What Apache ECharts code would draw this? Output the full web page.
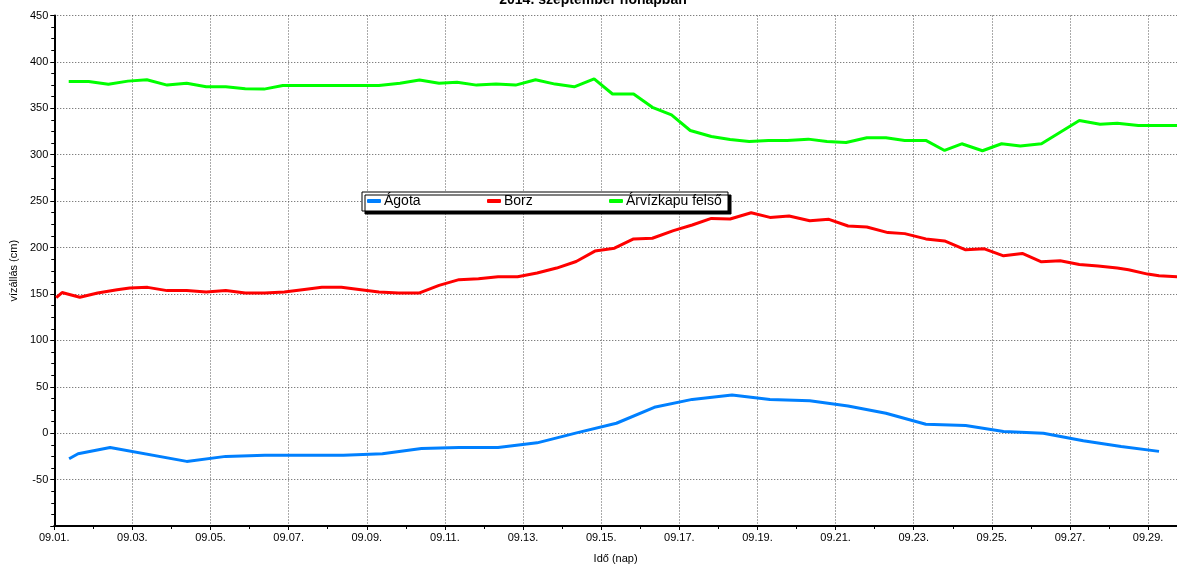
<!DOCTYPE html>
<html>
<head>
<meta charset="utf-8">
<script src="https://cdn.jsdelivr.net/npm/echarts@6/dist/echarts.min.js"></script>
<style>
html,body{margin:0;padding:0;background:#fff;}
#chart{width:1177px;height:569px;}
</style>
</head>
<body>
<div id="chart"></div>
<script>
// Time = days elapsed since 2014-09-01 00:00
const seriesNames = ['Ágota', 'Borz', 'Árvízkapu felső'];
const seriesColors = ['#0080ff', '#ff0000', '#00ff00'];

const agotaT = [0.38, 0.61, 1.43, 3.39, 4.39, 5.39, 6.39, 7.40, 8.40, 9.40, 10.36, 11.36, 12.36, 13.37, 14.39, 15.36, 16.33, 17.35, 18.32, 19.34, 20.32, 21.29, 22.31, 23.33, 24.30, 25.32, 26.34, 27.31, 28.28];
const agotaV = [-27.5, -22.1, -15.4, -30.4, -25, -23.9, -23.9, -23.9, -22.1, -16.4, -15.4, -15.4, -10.4, 0.3, 10.7, 27.9, 36.4, 41.1, 36.4, 35, 29.3, 21.4, 9.6, 8.2, 1.8, 0, -8.2, -14.3, -19.6];

const borzT = [0.05, 0.2, 0.34, 0.655, 1.11, 1.61, 1.93, 2.39, 2.89, 3.39, 3.89, 4.39, 4.89, 5.39, 5.89, 6.35, 6.85, 7.35, 7.85, 8.31, 8.81, 9.35, 9.85, 10.36, 10.86, 11.36, 11.86, 12.36, 12.86, 13.36, 13.84, 14.34, 14.83, 15.31, 15.85, 16.33, 16.82, 17.30, 17.84, 18.32, 18.81, 19.34, 19.83, 20.32, 20.80, 21.34, 21.77, 22.31, 22.79, 23.33, 23.81, 24.30, 24.78, 25.27, 25.75, 26.24, 26.72, 27.21, 27.50, 27.99, 28.28, 28.80];
const borzV = [146, 151.5, 150, 146.4, 151.1, 154.6, 156.4, 157.1, 153.6, 153.6, 152.1, 153.6, 151.1, 151.1, 152.1, 154.6, 157.1, 157.1, 154.6, 152.1, 151.1, 151.1, 159.3, 165.4, 166.4, 168.6, 168.6, 172.5, 177.9, 185, 196.2, 199.3, 209.3, 210, 218.2, 224.3, 231.4, 230.7, 237.5, 232.5, 233.9, 228.9, 230.4, 223.2, 222.1, 216.1, 215, 209.3, 207.1, 197.5, 198.6, 191.1, 193.6, 184.6, 185.7, 181.8, 180, 177.9, 176.1, 171.4, 169.6, 168.4];

const arvizT = [0.37, 0.88, 1.385, 1.885, 2.37, 2.89, 3.39, 3.89, 4.39, 4.89, 5.37, 5.85, 6.35, 6.85, 7.35, 7.85, 8.31, 8.85, 9.35, 9.85, 10.31, 10.81, 11.31, 11.81, 12.32, 12.82, 13.31, 13.82, 14.29, 14.83, 15.31, 15.80, 16.28, 16.82, 17.30, 17.79, 18.28, 18.76, 19.30, 19.78, 20.27, 20.80, 21.29, 21.77, 22.31, 22.79, 23.23, 23.76, 24.25, 24.73, 25.27, 25.75, 26.24, 26.77, 27.21, 27.75, 28.18, 28.80];
const arvizV = [379, 379, 376, 379.3, 380.7, 375, 377.1, 373.2, 373.2, 371.1, 370.7, 374.6, 374.6, 374.6, 374.6, 374.6, 374.6, 377.1, 380.4, 377.1, 378.2, 375, 376.1, 375, 380.7, 376.1, 373.2, 381.8, 365.4, 365.4, 351.1, 342.9, 326.1, 319.6, 316.4, 314.3, 315.4, 315.4, 316.8, 314.3, 313.2, 318.2, 318.2, 315.4, 315.4, 304.6, 311.8, 304.3, 311.8, 309.3, 311.8, 324.3, 336.8, 332.9, 333.9, 331.4, 331.4, 331.4];

const yTicks = [-50, 0, 50, 100, 150, 200, 250, 300, 350, 400, 450];
const titleText = '2014. szeptember hónapban';
const xName = 'Idő (nap)';
const yName = 'vízállás (cm)';

function pairs(t, v) { return t.map((x, i) => [x, v[i]]); }
const seriesData = [pairs(agotaT, agotaV), pairs(borzT, borzV), pairs(arvizT, arvizV)];

const FONT = 'Liberation Sans, Arial, sans-serif';
const dotted = { color: '#555', width: 1, type: [1, 2] };

// legend layout (one legend component per item, inside a framed box)
const legendBox = { x: 362, y: 192, w: 366, h: 19 };
const legendLefts = [367, 487, 609];

const chart = echarts.init(document.getElementById('chart'), null, { renderer: 'canvas' });
chart.setOption({
  animation: false,
  backgroundColor: '#fff',
  title: {
    text: titleText,
    left: 588,
    textAlign: 'center',
    top: -12,
    textStyle: { fontFamily: FONT, fontSize: 14, fontWeight: 'bold', color: '#000' }
  },
  graphic: [{
    type: 'rect',
    z: 50,
    shape: { x: legendBox.x, y: legendBox.y, width: legendBox.w, height: legendBox.h },
    style: { fill: '#fff', stroke: '#000', lineWidth: 1, shadowColor: '#000', shadowBlur: 0, shadowOffsetX: 3, shadowOffsetY: 3 },
    silent: true
  }],
  legend: seriesNames.map((n, i) => ({
    left: legendLefts[i],
    top: legendBox.y + 2,
    z: 60,
    padding: 0,
    itemWidth: 14,
    itemHeight: 4,
    itemGap: 0,
    icon: 'roundRect',
    textStyle: { fontFamily: FONT, fontSize: 14, color: '#000', padding: [0, 0, 0, -2] },
    data: [n]
  })),
  grid: { left: 50, right: 0, top: 15.5, bottom: 38.5, containLabel: false },
  xAxis: {
    type: 'value',
    min: 0,
    max: 28.74,
    interval: 2,
    name: xName,
    nameLocation: 'middle',
    nameGap: 27,
    nameTextStyle: { fontFamily: FONT, fontSize: 11, color: '#000' },
    axisLine: { show: true, onZero: false, lineStyle: { color: '#000', width: 2 } },
    axisTick: { show: true, inside: false, length: 4, lineStyle: { color: '#000' } },
    minorTick: { show: true, splitNumber: 2, length: 3, lineStyle: { color: '#000' } },
    axisLabel: {
      fontFamily: FONT, fontSize: 11, color: '#000', margin: 6, showMaxLabel: false,
      formatter: function (v) { const d = Math.round(v) + 1; return '09.' + (d < 10 ? '0' + d : d) + '.'; }
    },
    splitLine: { show: true, lineStyle: dotted }
  },
  yAxis: {
    type: 'value',
    min: -100,
    max: 450,
    interval: 50,
    name: yName,
    nameLocation: 'middle',
    nameGap: 35,
    nameTextStyle: { fontFamily: FONT, fontSize: 11, color: '#000' },
    axisLine: { show: true, onZero: false, lineStyle: { color: '#000', width: 2 } },
    axisTick: { show: true, inside: false, length: 4, lineStyle: { color: '#000' } },
    minorTick: { show: true, splitNumber: 4, length: 3, lineStyle: { color: '#000' } },
    axisLabel: {
      fontFamily: FONT, fontSize: 11, color: '#000', margin: 6,
      formatter: function (v) { return yTicks.indexOf(v) >= 0 ? String(v) : ''; }
    },
    splitLine: { show: true, lineStyle: dotted }
  },
  series: seriesNames.map((n, i) => ({
    name: n,
    type: 'line',
    data: seriesData[i],
    showSymbol: false,
    symbol: 'none',
    clip: true,
    itemStyle: { color: seriesColors[i] },
    lineStyle: { color: seriesColors[i], width: 3 },
    z: 2 + i
  }))
});
</script>
</body>
</html>
